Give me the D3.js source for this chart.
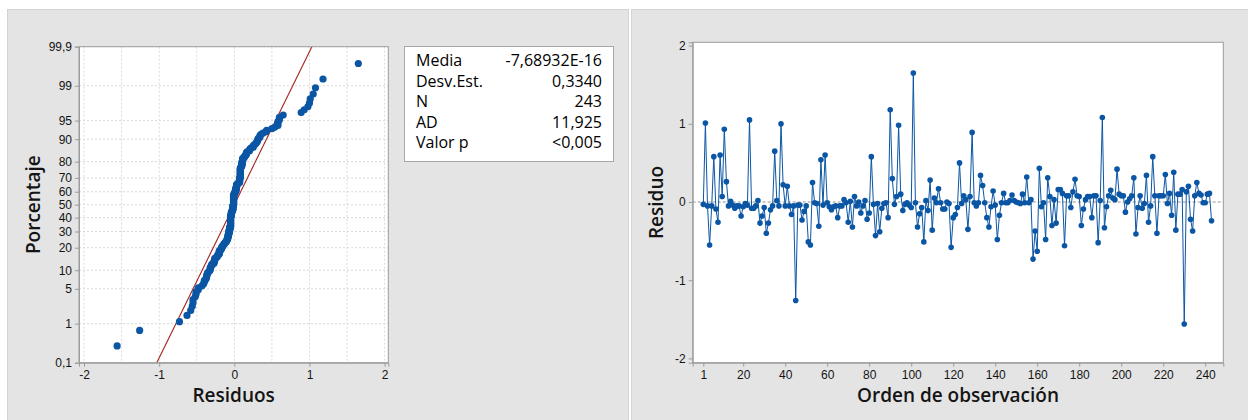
<!DOCTYPE html>
<html>
<head>
<meta charset="utf-8">
<script src="https://cdn.jsdelivr.net/npm/d3@7"></script>
<style>
  html, body { margin: 0; padding: 0; background: #ffffff; }
  svg { display: block; font-family: "Open Sans", "Noto Sans", sans-serif; }
</style>
</head>
<body>
<svg id="chart" width="1248" height="420"></svg>
<script>
// Residuals in observation order (1..243)
const residuals = [
  -0.03, 1.01, -0.05, -0.55, -0.05, 0.58, -0.09, -0.26, 0.60, 0.07,
   0.93, 0.26, -0.05, 0.01, -0.04, -0.08, -0.05, -0.05, -0.18, -0.06,
  -0.02, -0.04, 1.05, -0.08, -0.08, -0.05, 0.02, -0.27, -0.18, -0.07,
  -0.40, -0.27, -0.10, -0.05, 0.65, 0.02, -0.05, 1.00, 0.22, -0.05,
   0.20, -0.05, -0.16, -0.05, -1.26, -0.04, -0.04, -0.23, -0.12, -0.05,
  -0.51, -0.55, 0.25, -0.01, -0.02, -0.31, 0.54, -0.04, 0.60, -0.01,
  -0.06, -0.10, -0.06, -0.05, -0.20, -0.05, -0.05, 0.03, -0.01, -0.26,
   0.01, -0.32, 0.07, -0.05, 0.00, -0.14, -0.05, 0.02, -0.22, -0.14,
   0.58, -0.03, -0.43, -0.02, -0.38, -0.08, -0.02, -0.01, -0.20, 1.18,
   0.30, -0.03, 0.07, 0.98, 0.10, -0.11, -0.03, -0.01, -0.04, -0.07,
   1.65, -0.01, -0.32, -0.15, -0.07, -0.51, 0.02, -0.11, 0.28, -0.36,
   0.05, -0.01, 0.17, -0.01, -0.09, -0.09, 0.00, -0.02, -0.58, -0.20,
  -0.16, -0.07, 0.50, -0.02, 0.08, 0.03, -0.35, 0.07, 0.89, -0.01,
  -0.05, -0.01, 0.34, 0.21, -0.01, -0.20, -0.32, -0.06, 0.14, -0.04,
  -0.48, -0.17, -0.01, 0.11, -0.01, -0.01, 0.02, 0.09, 0.02, 0.00,
  -0.01, -0.02, 0.10, -0.01, 0.32, -0.01, 0.03, -0.73, -0.37, -0.63,
   0.43, -0.06, -0.01, -0.48, 0.31, 0.07, -0.30, 0.03, -0.27, 0.16,
   0.16, 0.11, -0.56, 0.08, 0.08, -0.07, 0.13, 0.29, 0.08, 0.07,
  -0.30, -0.09, 0.03, 0.07, 0.07, -0.20, 0.08, 0.08, -0.52, 0.02,
   1.08, -0.33, -0.06, 0.08, 0.15, 0.05, 0.03, 0.42, 0.10, 0.08,
   0.08, -0.13, 0.00, 0.04, 0.08, 0.31, -0.41, -0.07, 0.08, -0.08,
  -0.02, 0.34, -0.26, -0.05, 0.58, 0.08, -0.40, 0.08, 0.08, 0.08,
   0.35, -0.02, 0.11, -0.17, 0.38, -0.36, 0.10, 0.10, 0.16, -1.56,
   0.13, 0.20, -0.22, -0.37, 0.08, 0.25, 0.11, 0.09, -0.01, -0.01,
   0.10, 0.11, -0.24
];

// Summary statistics shown in the table
const statLabels = ["Media", "Desv.Est.", "N", "AD", "Valor p"];
const statValues = ["-7,68932E-16", "0,3340", "243", "11,925", "<0,005"];
const fitMean = -7.68932e-16;
const fitSd = 0.3340;

// Tick values
const percentTicks = [0.1, 1, 5, 10, 20, 30, 40, 50, 60, 70, 80, 90, 95, 99, 99.9];
const residTicks = [-2, -1, 0, 1, 2];
const orderTicks = [1, 20, 40, 60, 80, 100, 120, 140, 160, 180, 200, 220, 240];
const residGridTicks = [-2, -1.5, -1, -0.5, 0, 0.5, 1, 1.5, 2];

// Inverse of the standard normal CDF (Acklam's rational approximation)
function probit(p) {
  const a = [-3.969683028665376e+01, 2.209460984245205e+02, -2.759285104469687e+02,
             1.383577518672690e+02, -3.066479806614716e+01, 2.506628277459239e+00];
  const b = [-5.447609879822406e+01, 1.615858368580409e+02, -1.556989798598866e+02,
             6.680131188771972e+01, -1.328068155288572e+01];
  const c = [-7.784894002430293e-03, -3.223964580411365e-01, -2.400758277161838e+00,
             -2.549732539343734e+00, 4.374664141464968e+00, 2.938163982698783e+00];
  const d = [7.784695709041462e-03, 3.224671290700398e-01, 2.445134137142996e+00,
             3.754408661907416e+00];
  const pl = 0.02425, ph = 1 - pl;
  let q, r;
  if (p < pl) {
    q = Math.sqrt(-2 * Math.log(p));
    return (((((c[0]*q+c[1])*q+c[2])*q+c[3])*q+c[4])*q+c[5]) /
           ((((d[0]*q+d[1])*q+d[2])*q+d[3])*q+1);
  } else if (p <= ph) {
    q = p - 0.5; r = q * q;
    return (((((a[0]*r+a[1])*r+a[2])*r+a[3])*r+a[4])*r+a[5])*q /
           (((((b[0]*r+b[1])*r+b[2])*r+b[3])*r+b[4])*r+1);
  } else {
    q = Math.sqrt(-2 * Math.log(1 - p));
    return -(((((c[0]*q+c[1])*q+c[2])*q+c[3])*q+c[4])*q+c[5]) /
            ((((d[0]*q+d[1])*q+d[2])*q+d[3])*q+1);
  }
}

const svg = d3.select("#chart");
const BLUE = "#0b56a4";
const AXIS = "#9c9c9c";
const TEXT = "#141414";

// Panel backgrounds
svg.append("rect").attr("x", 7.5).attr("y", 9.5).attr("width", 621).attr("height", 420)
  .attr("fill", "#e4e4e4").attr("stroke", "#d3d3d3");
svg.append("rect").attr("x", 631.5).attr("y", 9.5).attr("width", 620).attr("height", 420)
  .attr("fill", "#e4e4e4").attr("stroke", "#d3d3d3");

function styleAxis(g) {
  g.select(".domain").attr("stroke", AXIS);
  g.selectAll(".tick line").attr("stroke", AXIS);
  g.selectAll(".tick text").attr("fill", TEXT).attr("font-size", 12);
}

// ---------- Normal probability plot ----------
const L = { left: 79, right: 388.3, top: 46.7, bottom: 362.7 };
const xRes = d3.scaleLinear().domain([-2.067, 2.049]).range([L.left, L.right]);
const zMax = probit(0.999);
const yZ = d3.scaleLinear().domain([-zMax, zMax]).range([L.bottom, L.top]);

svg.append("rect").attr("x", L.left).attr("y", L.top)
  .attr("width", L.right - L.left).attr("height", L.bottom - L.top).attr("fill", "#ffffff");

const gridL = svg.append("g");
gridL.selectAll("line.v").data(residGridTicks).join("line")
  .attr("x1", d => xRes(d)).attr("x2", d => xRes(d))
  .attr("y1", L.top).attr("y2", L.bottom)
  .attr("stroke", "#d9d9d9").attr("stroke-dasharray", "2,2");
gridL.selectAll("line.h").data(percentTicks).join("line")
  .attr("x1", L.left).attr("x2", L.right)
  .attr("y1", d => yZ(probit(d / 100))).attr("y2", d => yZ(probit(d / 100)))
  .attr("stroke", "#d9d9d9").attr("stroke-dasharray", "2,2");

// Fitted normal line
svg.append("clipPath").attr("id", "clipL").append("rect")
  .attr("x", L.left).attr("y", L.top).attr("width", L.right - L.left).attr("height", L.bottom - L.top);
svg.append("line").attr("clip-path", "url(#clipL)")
  .attr("x1", xRes(fitMean - fitSd * zMax)).attr("y1", yZ(-zMax))
  .attr("x2", xRes(fitMean + fitSd * zMax)).attr("y2", yZ(zMax))
  .attr("stroke", "#a3201f").attr("stroke-width", 1.1);

// Sorted residuals against median ranks
const n = residuals.length;
const sorted = residuals.slice().sort(d3.ascending);
svg.append("g").selectAll("circle").data(sorted).join("circle")
  .attr("cx", d => xRes(d))
  .attr("cy", (d, i) => yZ(probit((i + 1 - 0.3) / (n + 0.4))))
  .attr("r", 3.6).attr("fill", BLUE);

svg.append("rect").attr("x", L.left).attr("y", L.top)
  .attr("width", L.right - L.left).attr("height", L.bottom - L.top)
  .attr("fill", "none").attr("stroke", AXIS);

svg.append("g").attr("transform", `translate(0,${L.bottom})`)
  .call(d3.axisBottom(xRes).tickValues(residTicks).tickSize(4).tickPadding(4)
    .tickFormat(d => String(d)))
  .call(styleAxis);
svg.append("g").attr("transform", `translate(${L.left},0)`)
  .call(d3.axisLeft(yZ).tickValues(percentTicks.map(p => probit(p / 100))).tickSize(4).tickPadding(3)
    .tickFormat((d, i) => String(percentTicks[i]).replace(".", ",")))
  .call(styleAxis);

svg.append("text").attr("x", (L.left + L.right) / 2).attr("y", 402)
  .attr("text-anchor", "middle").attr("font-size", 19).attr("font-weight", 600)
  .attr("fill", TEXT).text("Residuos");
svg.append("text").attr("transform", `translate(40,${(L.top + L.bottom) / 2}) rotate(-90)`)
  .attr("text-anchor", "middle").attr("font-size", 19).attr("font-weight", 600)
  .attr("fill", TEXT).text("Porcentaje");

// Statistics table
const box = svg.append("g");
box.append("rect").attr("x", 404.5).attr("y", 46.5).attr("width", 209).attr("height", 115)
  .attr("fill", "#ffffff").attr("stroke", "#a8a8a8");
box.selectAll("text.lab").data(statLabels).join("text")
  .attr("x", 416).attr("y", (d, i) => 66 + i * 20.5)
  .attr("font-size", 16).attr("fill", "#000").text(d => d);
box.selectAll("text.val").data(statValues).join("text")
  .attr("x", 602).attr("y", (d, i) => 66 + i * 20.5).attr("text-anchor", "end")
  .attr("font-size", 16).attr("fill", "#000").text(d => d);

// ---------- Residuals versus order ----------
const R = { left: 692.7, right: 1223.3, top: 42.3, bottom: 362.7 };
const xOrd = d3.scaleLinear().domain([-4.05, 248.6]).range([R.left, R.right]);
const yRes = d3.scaleLinear().domain([-2.055, 2.042]).range([R.bottom, R.top]);

svg.append("rect").attr("x", R.left).attr("y", R.top)
  .attr("width", R.right - R.left).attr("height", R.bottom - R.top).attr("fill", "#ffffff");

svg.append("line").attr("x1", R.left).attr("x2", R.right)
  .attr("y1", yRes(0)).attr("y2", yRes(0))
  .attr("stroke", "#b8b8b8").attr("stroke-width", 1.6).attr("stroke-dasharray", "3,2");

const series = residuals.map((v, i) => ({ k: i + 1, v }));
svg.append("path").datum(series)
  .attr("d", d3.line().x(d => xOrd(d.k)).y(d => yRes(d.v)))
  .attr("fill", "none").attr("stroke", BLUE).attr("stroke-width", 1);
svg.append("g").selectAll("circle").data(series).join("circle")
  .attr("cx", d => xOrd(d.k)).attr("cy", d => yRes(d.v))
  .attr("r", 2.8).attr("fill", BLUE);

svg.append("rect").attr("x", R.left).attr("y", R.top)
  .attr("width", R.right - R.left).attr("height", R.bottom - R.top)
  .attr("fill", "none").attr("stroke", AXIS);

svg.append("g").attr("transform", `translate(0,${R.bottom})`)
  .call(d3.axisBottom(xOrd).tickValues(orderTicks).tickSize(4).tickPadding(4).tickFormat(d3.format("d")))
  .call(styleAxis);
svg.append("g").attr("transform", `translate(${R.left},0)`)
  .call(d3.axisLeft(yRes).tickValues(residTicks).tickSize(4).tickPadding(3)
    .tickFormat(d => String(d)))
  .call(styleAxis);

svg.append("text").attr("x", (R.left + R.right) / 2).attr("y", 402)
  .attr("text-anchor", "middle").attr("font-size", 19).attr("font-weight", 600)
  .attr("fill", TEXT).text("Orden de observación");
svg.append("text").attr("transform", `translate(663,${(R.top + R.bottom) / 2}) rotate(-90)`)
  .attr("text-anchor", "middle").attr("font-size", 19).attr("font-weight", 600)
  .attr("fill", TEXT).text("Residuo");
</script>
</body>
</html>
